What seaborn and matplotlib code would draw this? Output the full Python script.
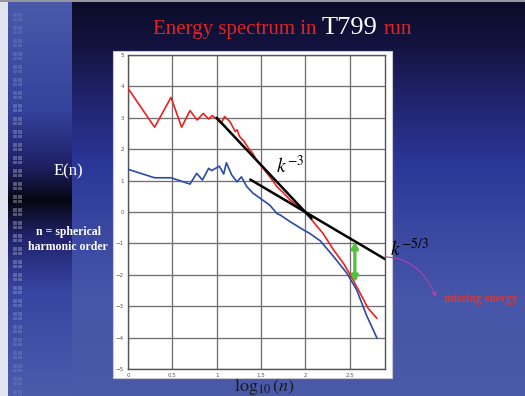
import numpy as np
import pandas as pd
import matplotlib
matplotlib.use("Agg")
import matplotlib.pyplot as plt
from matplotlib.patches import Rectangle
import seaborn as sns

# ---------------- data ----------------
red_x = [0.0, 0.30, 0.485, 0.605, 0.70, 0.78, 0.85, 0.91, 0.95, 1.0, 1.05, 1.09, 1.15, 1.21, 1.23,
         1.26, 1.31, 1.36, 1.40, 1.45, 1.50, 1.57, 1.62, 1.68, 1.75, 1.83, 1.90, 2.0, 2.09, 2.20,
         2.32, 2.43, 2.52, 2.62, 2.71, 2.81]
red_y = [3.94, 2.70, 3.65, 2.70, 3.23, 2.93, 3.14, 2.96, 3.07, 2.96, 2.82, 3.04, 2.88, 2.56, 2.62,
         2.40, 2.25, 2.03, 1.90, 1.66, 1.48, 1.23, 1.05, 0.81, 0.62, 0.38, 0.22, 0.01, -0.31, -0.68,
         -1.21, -1.63, -2.06, -2.59, -3.07, -3.39]
blue_x = [0.0, 0.30, 0.485, 0.70, 0.775, 0.84, 0.91, 0.945, 1.03, 1.08, 1.11, 1.17, 1.23, 1.28,
          1.34, 1.41, 1.49, 1.60, 1.68, 1.72, 1.83, 1.98, 2.05, 2.17, 2.32, 2.47, 2.58, 2.69, 2.81]
blue_y = [1.36, 1.09, 1.09, 0.89, 1.23, 1.02, 1.39, 1.32, 1.46, 1.21, 1.57, 1.18, 0.96, 1.12,
          0.81, 0.60, 0.44, 0.22, -0.05, -0.10, -0.31, -0.57, -0.68, -0.92, -1.42, -1.95, -2.48,
          -3.28, -4.02]
k3_x = [1.0, 2.07]          # k^-3 reference line: y = -3 (x - 2)
k53_x = [1.38, 2.9]         # k^-5/3 reference line: y = -5/3 (x - 2)
x_ticks = [0, 0.5, 1, 1.5, 2, 2.5]
x_tick_labels = ["0", "0.5", "1", "1.5", "2", "2.5"]
y_ticks = [5, 4, 3, 2, 1, 0, -1, -2, -3, -4, -5]
gap_x = 2.56
gap_y = [-0.93, -2.25]

df = pd.DataFrame({
    "x": red_x + blue_x,
    "y": red_y + blue_y,
    "series": ["red"] * len(red_x) + ["blue"] * len(blue_x),
})

# ---------------- figure ----------------
sns.set_style("white")
W, H = 525, 396
fig = plt.figure(figsize=(W / 100, H / 100), dpi=100)

# background slide
yy = np.arange(H)
main_pts = [0, 40, 100, 160, 230, 300, 396]
main_r = [12, 18, 32, 42, 58, 70, 74]
main_g = [12, 18, 36, 54, 72, 86, 90]
main_b = [40, 60, 110, 150, 162, 168, 168]
left_pts = [0, 110, 165, 200, 235, 290, 396]
left_r = [74, 52, 30, 6, 32, 55, 76]
left_g = [90, 66, 32, 6, 34, 68, 92]
left_b = [170, 155, 100, 18, 105, 160, 172]
img = np.zeros((H, W, 3))
mc = np.stack([np.interp(yy, main_pts, c) for c in (main_r, main_g, main_b)], axis=1) / 255
lc = np.stack([np.interp(yy, left_pts, c) for c in (left_r, left_g, left_b)], axis=1) / 255
img[:, :, :] = mc[:, None, :]
img[:, 8:72, :] = lc[:, None, :]
img[:, 0:8, :] = np.array([225, 228, 238]) / 255
img[0:2, :, :] = np.array([150, 150, 160]) / 255

bg = fig.add_axes([0, 0, 1, 1], zorder=-10)
bg.imshow(img, aspect="auto", extent=[0, W, H, 0], interpolation="bilinear")
bg.set_xlim(0, W)
bg.set_ylim(H, 0)
bg.axis("off")

# decorative tiles on the left strip
for ty in np.arange(13, 392, 13):
    a = 0.08 + 0.22 * np.exp(-((ty - 200) / 110) ** 2)
    for dx in (0, 5):
        for dy in (0, 4.5):
            bg.add_patch(Rectangle((13 + dx, ty + dy), 4.3, 3.8, facecolor="white",
                                   alpha=a, edgecolor="none"))

# white panel behind the chart
bg.add_patch(Rectangle((113, 51), 279, 327, facecolor="white", edgecolor="#c8c8d0", lw=0.8))

# ---------------- axes ----------------
ax = fig.add_axes([128 / W, 1 - 369 / H, (385 - 128) / W, (369 - 55) / H])
ax.set_facecolor("white")
sns.lineplot(data=df, x="x", y="y", hue="series", palette={"red": "#ee2020", "blue": "#2a4aa8"},
             sort=False, estimator=None, legend=False, lw=1.2, ax=ax, zorder=3)

k3_y = [-3 * (v - 2) for v in k3_x]
k53_y = [-5 / 3 * (v - 2) for v in k53_x]
ax.plot(k3_x, k3_y, color="black", lw=1.8, zorder=4)
ax.plot(k53_x, k53_y, color="black", lw=1.8, zorder=4)

ax.set_xlim(0, 2.9)
ax.set_ylim(-5, 5)
ax.set_xticks(x_ticks)
ax.set_xticklabels(x_tick_labels)
ax.set_yticks(y_ticks)
ax.grid(True, color="#707070", lw=0.95)
for s in ax.spines.values():
    s.set_color("#555555")
    s.set_linewidth(1.0)
ax.tick_params(axis="both", labelsize=4, colors="#555555", length=2, width=0.6, pad=1,
               direction="out")
ax.set_xlabel("")
ax.set_ylabel("")

# annotations inside the plot
ax.text(1.67, 1.24, r"$k^{-3}$", fontsize=14, color="black", ha="left", va="baseline",
        math_fontfamily="stix", zorder=5)
ax.text(2.955, -1.43, r"$k^{-5/3}$", fontsize=14, color="black", ha="left", va="baseline",
        math_fontfamily="stix", clip_on=False, zorder=5)
ax.annotate("", xy=(gap_x, gap_y[1]), xytext=(gap_x, gap_y[0]),
            arrowprops=dict(arrowstyle="<|-|>", color="#55c040", lw=2.4, mutation_scale=9,
                            shrinkA=0, shrinkB=0), zorder=6)

# ---------------- slide texts ----------------
serif = ["Liberation Serif", "DejaVu Serif"]
bg.annotate("", xy=(436, 297), xytext=(359, 261),
            arrowprops=dict(arrowstyle="-|>", color="#b040b0", lw=0.8, mutation_scale=7,
                            connectionstyle="arc3,rad=-0.45", shrinkA=0, shrinkB=0))
bg.text(444, 302, "missing energy", color="#d83838", fontsize=8.3, family=serif,
        ha="left", va="baseline", fontweight="bold")

fig.canvas.draw()
r = fig.canvas.get_renderer()
t1 = bg.text(153, 34, "Energy spectrum in", color="#e02424", fontsize=15, family=serif,
             ha="left", va="baseline")
w1 = t1.get_window_extent(r).width
t2 = bg.text(153 + w1 + 5, 34, "T799", color="white", fontsize=19, family=serif,
             ha="left", va="baseline")
w2 = t2.get_window_extent(r).width
bg.text(153 + w1 + 5 + w2 + 6, 34, "run", color="#e02424", fontsize=15.5, family=serif,
        ha="left", va="baseline")

bg.text(68, 171, "E(n)", color="white", fontsize=12, family=serif, ha="center", va="center")
bg.text(68, 232, "n = spherical", color="white", fontsize=8.5, family=serif, ha="center",
        va="center", fontweight="bold")
bg.text(68, 247, "harmonic order", color="white", fontsize=8.5, family=serif, ha="center",
        va="center", fontweight="bold")
bg.text(265, 387, r"$\log_{10}(n)$", color="#1a1a1a", fontsize=13, ha="center", va="center",
        math_fontfamily="stix")

fig.savefig("out.png", dpi=100)
